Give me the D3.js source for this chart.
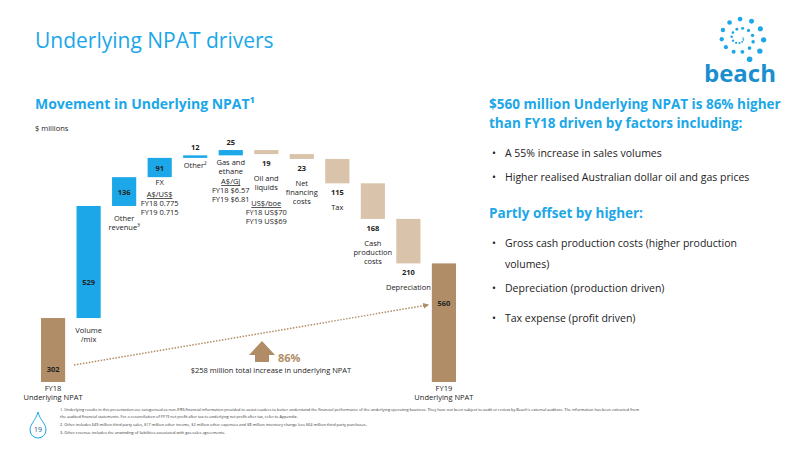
<!DOCTYPE html><html><head><meta charset="utf-8"><script src="https://cdn.jsdelivr.net/npm/d3@7"></script>
<style>body{margin:0;background:#fff;font-family:"Open Sans","Noto Sans",sans-serif}</style></head><body><svg id="c" width="800" height="450"></svg>
<script>
const categories=["FY18 Underlying NPAT","Volume/mix","Other revenue","FX","Other","Gas and ethane","Oil and liquids","Net financing costs","Tax","Cash production costs","Depreciation","FY19 Underlying NPAT"];
const values=[302,529,136,91,12,25,-19,-23,-115,-168,-210,560];
const kinds=["total","up","up","up","up","up","down","down","down","down","down","total"];
const subLabels=[["FY18","Underlying NPAT"],["Volume","/mix"],["Other","revenue³"],["FX"],["Other²"],["Gas and","ethane"],["Oil and","liquids"],["Net","financing","costs"],["Tax"],["Cash","production","costs"],["Depreciation"],["FY19","Underlying NPAT"]];
const colors={total:"#b08d66",up:"#1ba7e8",down:"#d9c3aa"};
const svg=d3.select("#c");
svg.append("text").attr("x",35).attr("y",48).attr("font-size",21).attr("fill","#1ba7e8").text("Underlying NPAT drivers");
const lg=svg.append("g").attr("transform","translate(740,38)");
for(let i=0;i<26;i++){const a=i*0.55,r=3+i*0.9;lg.append("circle").attr("cx",r*Math.cos(a)).attr("cy",r*Math.sin(a)*0.9).attr("r",0.8+i*0.08).attr("fill","#1ba7e8");}
svg.append("text").attr("x",740).attr("y",82).attr("text-anchor","middle").attr("font-size",24).attr("font-weight","bold").attr("fill","#1a8fd0").text("beach");
svg.append("text").attr("x",35).attr("y",109).attr("font-size",14).attr("font-weight","bold").attr("fill","#1ba7e8").text("Movement in Underlying NPAT¹");
svg.append("text").attr("x",35).attr("y",131).attr("font-size",7.5).attr("fill","#222").text("$ millions");
const x=d3.scaleBand().domain(categories).range([41,456]).paddingInner(0.32).paddingOuter(0);
const y=d3.scaleLinear().domain([0,1100]).range([382,149]);
let cum=0;const rows=values.map((v,i)=>{let a,b;if(kinds[i]==="total"){a=0;b=v;cum=v;}else{a=cum;b=cum+v;cum=b;}return{c:categories[i],v,k:kinds[i],lo:Math.min(a,b),hi:Math.max(a,b),i};});
const g=svg.append("g");
g.selectAll("rect").data(rows).join("rect").attr("x",d=>x(d.c)).attr("width",x.bandwidth()).attr("y",d=>y(d.hi)).attr("height",d=>Math.max(2,y(d.lo)-y(d.hi))).attr("fill",d=>colors[d.k]);
const fs=7.5;
rows.forEach(d=>{const cx=x(d.c)+x.bandwidth()/2;const h=y(d.lo)-y(d.hi);let vy,ly;
 if(d.k!=="down"&&h>14){vy=d.i===0?372:(d.i===11?306:(d.i===1?285:(y(d.hi)+y(d.lo))/2+3));ly=y(d.lo)+(d.i===3?8:15);
  if(d.i===0||d.i===11)ly=391;}
 else if(d.k==="up"){vy=y(d.hi)-5;ly=y(d.lo)+10;}
 else{vy=y(d.lo)+12;ly=vy+15;}
 g.append("text").attr("x",cx).attr("y",vy).attr("text-anchor","middle").attr("font-size",fs).attr("font-weight","bold").attr("fill","#222").text(Math.abs(d.v));
 subLabels[d.i].forEach((t,j)=>g.append("text").attr("x",cx).attr("y",ly+j*9).attr("text-anchor","middle").attr("font-size",fs).attr("fill","#222").text(t));
});
const extra=[[3,["A$/US$","FY18 0.775","FY19 0.715"]],[5,["A$/GJ","FY18 $6.57","FY19 $6.81"]],[6,["US$/boe","FY18 US$70","FY19 US$69"]]];
extra.forEach(([i,ls])=>{const cx=x(categories[i])+x.bandwidth()/2;const base=i===3?197:(i===5?184:206);ls.forEach((t,j)=>g.append("text").attr("x",cx).attr("y",base+j*9).attr("text-anchor","middle").attr("font-size",fs).attr("fill","#222").attr("text-decoration",j===0?"underline":null).text(t));});
svg.append("defs").append("marker").attr("id","ah").attr("viewBox","0 0 10 10").attr("refX",8).attr("refY",5).attr("markerWidth",4).attr("markerHeight",4).attr("orient","auto").append("path").attr("d","M0,0L10,5L0,10z").attr("fill","#b08d66");
svg.append("line").attr("x1",74).attr("y1",365).attr("x2",428).attr("y2",305).attr("stroke","#b08d66").attr("stroke-width",1.5).attr("stroke-dasharray","1.5,1.5").attr("marker-end","url(#ah)");
svg.append("path").attr("d","M249,355 L262,341 L275,355 L269,355 L269,362 L255,362 L255,355 Z").attr("fill","#b08d66");
svg.append("text").attr("x",278).attr("y",362).attr("font-size",11).attr("font-weight","bold").attr("fill","#b08d66").text("86%");
svg.append("text").attr("x",271).attr("y",373).attr("text-anchor","middle").attr("font-size",7.5).attr("fill","#222").text("$258 million total increase in underlying NPAT");
const rp=svg.append("g").attr("font-size",10.5).attr("fill","#222");
rp.append("text").attr("x",489).attr("y",109).attr("font-size",13.5).attr("font-weight","bold").attr("fill","#1ba7e8").text("$560 million Underlying NPAT is 86% higher");
rp.append("text").attr("x",489).attr("y",128).attr("font-size",13.5).attr("font-weight","bold").attr("fill","#1ba7e8").text("than FY18 driven by factors including:");
const bul=[[157,"A 55% increase in sales volumes"],[181,"Higher realised Australian dollar oil and gas prices"],[247,"Gross cash production costs (higher production"],[292,"Depreciation (production driven)"],[322,"Tax expense (profit driven)"]];
bul.forEach(([yy,t])=>{rp.append("text").attr("x",492).attr("y",yy).text("•");rp.append("text").attr("x",505).attr("y",yy).text(t);});
rp.append("text").attr("x",505).attr("y",268).text("volumes)");
rp.append("text").attr("x",489).attr("y",218).attr("font-size",13.5).attr("font-weight","bold").attr("fill","#1ba7e8").text("Partly offset by higher:");
svg.append("path").attr("d","M38,412 C36,420 30,424 30,430 A8,8 0 0 0 46,430 C46,424 40,420 38,412Z").attr("fill","none").attr("stroke","#1ba7e8").attr("stroke-width",1);
svg.append("text").attr("x",38).attr("y",432).attr("text-anchor","middle").attr("font-size",7).attr("fill","#1a4f8a").text("19");
const fn=["1. Underlying results in this presentation are categorised as non-IFRS financial information provided to assist readers to better understand the financial performance of the underlying operating business. They have not been subject to audit or review by Beach's external auditors. The information has been extracted from","the audited financial statements. For a reconciliation of FY19 net profit after tax to underlying net profit after tax, refer to Appendix.","2. Other includes $49 million third party sales, $17 million other income, $2 million other expenses and $8 million inventory change less $64 million third party purchases.","3. Other revenue includes the unwinding of liabilities associated with gas sales agreements."];
const fy=[411,418,426,434];
fn.forEach((t,i)=>svg.append("text").attr("x",60).attr("y",fy[i]).attr("font-size",3.9).attr("fill","#333").text(t));
</script></body></html>
